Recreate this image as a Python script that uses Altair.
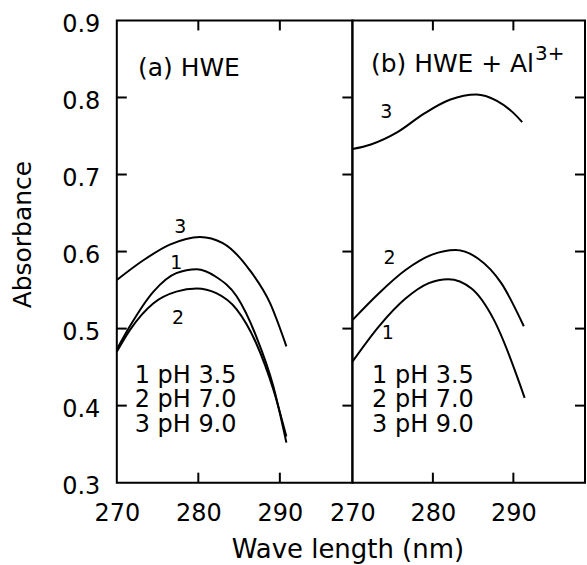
import altair as alt
import pandas as pd

FONT = "DejaVu Sans"

# ---------------- data ----------------
# Panel (a) HWE
a1_wl = [270, 271.6, 274.5, 277.3, 279.8, 282.2, 284.7, 287.1, 289.2, 290.8]
a1_abs = [0.473, 0.503, 0.548, 0.572, 0.577, 0.567, 0.542, 0.490, 0.425, 0.352]
a2_wl = [270, 271.6, 274.5, 277.3, 279.8, 282.2, 284.7, 287.1, 289.2, 290.8]
a2_abs = [0.470, 0.498, 0.533, 0.548, 0.552, 0.546, 0.525, 0.481, 0.421, 0.360]
a3_wl = [270, 273.3, 276.5, 280.2, 283.0, 286.3, 288.8, 290.8]
a3_abs = [0.563, 0.589, 0.609, 0.619, 0.611, 0.576, 0.533, 0.477]

# Panel (b) HWE + Al3+
b1_wl = [270, 273.3, 276.6, 279.5, 281.9, 284.8, 287.6, 290.9, 291.4]
b1_abs = [0.457, 0.503, 0.539, 0.559, 0.564, 0.552, 0.511, 0.425, 0.410]
b2_wl = [270, 273.3, 276.6, 279.9, 282.8, 285.6, 288.5, 291.3]
b2_abs = [0.511, 0.546, 0.576, 0.596, 0.602, 0.591, 0.559, 0.503]
b3_wl = [270, 272.3, 275.6, 278.9, 282.1, 285.4, 287.9, 289.9, 291.1]
b3_abs = [0.733, 0.739, 0.755, 0.779, 0.797, 0.804, 0.796, 0.781, 0.768]

curve_names = ["1", "2", "3"]

# curve number labels (position in data units)
a_lab_wl = [277.3, 277.5, 277.8]
a_lab_abs = [0.585, 0.514, 0.632]
b_lab_wl = [274.4, 274.6, 274.2]
b_lab_abs = [0.494, 0.591, 0.781]

legend_lines = ["1 pH 3.5", "2 pH 7.0", "3 pH 9.0"]
legend_abs = [0.438, 0.407, 0.375]
a_legend_wl = 272.2
b_legend_wl = 272.45

panel_titles = ["(a) HWE", "(b) HWE + Al"]
title_wl = [272.6, 272.3]
title_abs = [0.838, 0.843]
sup_text = "3+"
sup_wl = 292.7
sup_abs = 0.857

x_ticks = [270, 280, 290]
y_ticks = [0.3, 0.4, 0.5, 0.6, 0.7, 0.8, 0.9]
inner_x_ticks = [280, 290]
inner_y_ticks = [0.4, 0.5, 0.6, 0.7, 0.8]
X_DOMAIN = [270, 298.9]
Y_DOMAIN = [0.3, 0.9]

W_A, W_B, H = 236, 233, 463
TICK = 10


def curves_frame(wls, abss):
    rows = []
    for name, w, a in zip(curve_names, wls, abss):
        for i, (xv, yv) in enumerate(zip(w, a)):
            rows.append({"curve": name, "order": i, "wl": xv, "abs": yv})
    return pd.DataFrame(rows)


xs = alt.Scale(domain=X_DOMAIN, nice=False, zero=False)
ys = alt.Scale(domain=Y_DOMAIN, nice=False, zero=False)


def bottom_axis(with_title):
    kw = dict(values=x_ticks, ticks=False, domain=False, grid=False, labelFontSize=24,
              labelFont=FONT, labelColor="black", labelPadding=19, labelFlush=False,
              labelOverlap=False)
    if with_title:
        kw.update(title="Wave length (nm)", titleFont=FONT, titleFontSize=26,
                  titleFontWeight="normal", titleColor="black", titleX=-5, titleY=75,
                  titleAlign="center", titleBaseline="alphabetic", titleAnchor="middle")
    else:
        kw.update(title=None)
    return alt.Axis(**kw)


left_axis = alt.Axis(values=y_ticks, format=".1f", ticks=False, domain=False, grid=False,
                     labelFontSize=24, labelFont=FONT, labelColor="black", labelPadding=17,
                     labelOffset=4, labelFlush=False, labelOverlap=False,
                     title="Absorbance", titleFont=FONT, titleFontSize=25,
                     titleFontWeight="normal", titleColor="black", titleAngle=270,
                     titleX=-86.4, titleY=214, titleAlign="center",
                     titleBaseline="alphabetic")


def tick_layers(width, left):
    ydf = pd.DataFrame({"v": inner_y_ticks})
    xdf = pd.DataFrame({"v": inner_x_ticks})
    rule = dict(color="black", strokeWidth=2)
    out = []
    if left:
        out.append(alt.Chart(ydf).mark_rule(**rule).encode(
            y=alt.Y("v:Q", scale=ys, axis=None), x=alt.value(0), x2=alt.value(TICK)))
    out.append(alt.Chart(ydf).mark_rule(**rule).encode(
        y=alt.Y("v:Q", scale=ys, axis=None), x=alt.value(width - TICK), x2=alt.value(width)))
    out.append(alt.Chart(xdf).mark_rule(**rule).encode(
        x=alt.X("v:Q", scale=xs, axis=None), y=alt.value(0), y2=alt.value(TICK)))
    out.append(alt.Chart(xdf).mark_rule(**rule).encode(
        x=alt.X("v:Q", scale=xs, axis=None), y=alt.value(H - TICK), y2=alt.value(H)))
    return out


def panel(wls, abss, lab_wl, lab_abs, legend_wl, title_idx, first):
    width = W_A if first else W_B
    df = curves_frame(wls, abss)
    lines = alt.Chart(df).mark_line(color="black", strokeWidth=2, interpolate="monotone").encode(
        x=alt.X("wl:Q", scale=xs, axis=bottom_axis(not first)),
        y=alt.Y("abs:Q", scale=ys, axis=left_axis if first else None),
        detail="curve:N",
        order="order:Q",
    )
    labs = alt.Chart(pd.DataFrame({"wl": lab_wl, "abs": lab_abs, "t": curve_names})).mark_text(
        font=FONT, fontSize=19, color="black", align="center", baseline="middle"
    ).encode(
        x=alt.X("wl:Q", scale=xs, axis=None),
        y=alt.Y("abs:Q", scale=ys, axis=None),
        text="t:N",
    )
    legend = alt.Chart(pd.DataFrame({"wl": [legend_wl] * 3, "abs": legend_abs,
                                     "t": legend_lines})).mark_text(
        font=FONT, fontSize=24, color="black", align="left", baseline="middle"
    ).encode(
        x=alt.X("wl:Q", scale=xs, axis=None),
        y=alt.Y("abs:Q", scale=ys, axis=None),
        text="t:N",
    )
    ttl = alt.Chart(pd.DataFrame({"wl": [title_wl[title_idx]], "abs": [title_abs[title_idx]],
                                  "t": [panel_titles[title_idx]]})).mark_text(
        font=FONT, fontSize=25, color="black", align="left", baseline="middle"
    ).encode(
        x=alt.X("wl:Q", scale=xs, axis=None),
        y=alt.Y("abs:Q", scale=ys, axis=None),
        text="t:N",
    )
    layers = [lines, labs, legend, ttl]
    if not first:
        sup = alt.Chart(pd.DataFrame({"wl": [sup_wl], "abs": [sup_abs], "t": [sup_text]})).mark_text(
            font=FONT, fontSize=20, color="black", align="left", baseline="middle"
        ).encode(
            x=alt.X("wl:Q", scale=xs, axis=None),
            y=alt.Y("abs:Q", scale=ys, axis=None),
            text="t:N",
        )
        layers.append(sup)
    layers += tick_layers(width, first)
    return alt.layer(*layers).resolve_axis(x="independent", y="independent").properties(
        width=width, height=H
    )


pa = panel([a1_wl, a2_wl, a3_wl], [a1_abs, a2_abs, a3_abs], a_lab_wl, a_lab_abs,
           a_legend_wl, 0, True)
pb = panel([b1_wl, b2_wl, b3_wl], [b1_abs, b2_abs, b3_abs], b_lab_wl, b_lab_abs,
           b_legend_wl, 1, False)

chart = alt.hconcat(pa, pb, spacing=0, bounds="flush").properties(
    padding={"left": 9, "top": 11, "right": 0, "bottom": 0},
    background="white",
).configure_view(stroke="black", strokeWidth=2)

chart.save("out.html", embed_options={"renderer": "svg", "actions": False})
